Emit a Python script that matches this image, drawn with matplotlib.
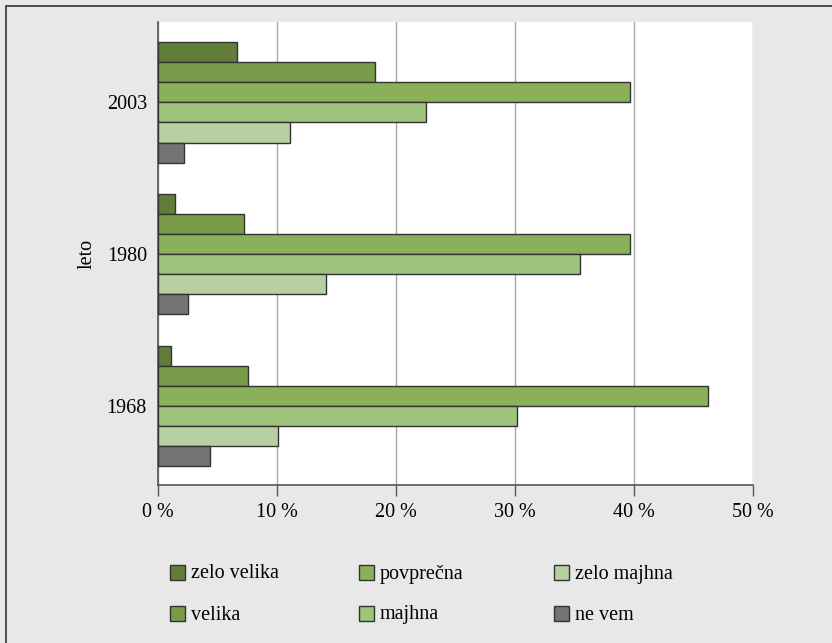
import matplotlib.pyplot as plt
from matplotlib.patches import Rectangle

# data (percent)
years = ['1968', '1980', '2003']
categories = ['zelo velika', 'velika', 'povprečna', 'majhna', 'zelo majhna', 'ne vem']
zelo_velika = [1.1, 1.4, 6.6]
velika = [7.6, 7.2, 18.2]
povprecna = [46.2, 39.7, 39.7]
majhna = [30.2, 35.5, 22.5]
zelo_majhna = [10.1, 14.1, 11.1]
ne_vem = [4.4, 2.5, 2.2]
x_ticks = [0, 10, 20, 30, 40, 50]

series = [zelo_velika, velika, povprecna, majhna, zelo_majhna, ne_vem]
colors = ['#627d3a', '#7a9b4a', '#8ab05a', '#9ec37c', '#b6d0a2', '#747476']

plt.rcParams['font.family'] = ['Liberation Serif', 'DejaVu Serif']
bg = '#e8e8e8'
W, H = 832, 643

fig = plt.figure(figsize=(W / 100, H / 100), dpi=100, facecolor=bg)
ax = fig.add_axes([158 / W, 1 - 485 / H, 595 / W, 463 / H])
ax.set_facecolor('white')

bar_h = 0.132
for i, (vals, col, name) in enumerate(zip(series, colors, categories)):
    offset = (2.5 - i) * bar_h
    ypos = [k + offset for k in range(len(years))]
    ax.barh(ypos, vals, height=bar_h, color=col, edgecolor='#333333',
            linewidth=1.0, label=name, zorder=3)

ax.set_xlim(0, 50)
ax.set_ylim(-0.52, 2.53)
ax.set_xticks(x_ticks)
ax.set_xticklabels([f'{t} %' for t in x_ticks], fontsize=14.5)
ax.set_yticks(range(len(years)))
ax.set_yticklabels(years, fontsize=14.5)
ax.tick_params(axis='y', length=0, pad=8)
ax.tick_params(axis='x', direction='out', length=8, width=1, color='#555555', pad=5)
ax.set_ylabel('leto', fontsize=14.5, labelpad=7)

ax.grid(axis='x', color='#a8a8a8', linewidth=1, zorder=0)
ax.set_axisbelow(True)
for s in ['top', 'right']:
    ax.spines[s].set_visible(False)
for s in ['left', 'bottom']:
    ax.spines[s].set_color('#555555')
    ax.spines[s].set_linewidth(1.2)

# legend: 3 columns x 2 rows, filled column by column
col_x = [170, 359, 554]
row_y = [572, 613]
sq = 15
for k, (name, col) in enumerate(zip(categories, colors)):
    x0 = col_x[k // 2]
    yc = row_y[k % 2]
    fig.add_artist(Rectangle((x0 / W, 1 - (yc + sq / 2) / H), sq / W, sq / H,
                             transform=fig.transFigure, facecolor=col,
                             edgecolor='#333333', linewidth=1.0))
    fig.text((x0 + sq + 6) / W, 1 - (yc + sq / 2 - 1) / H, name,
             fontsize=14.5, va='baseline', ha='left')

# outer frame
fig.add_artist(Rectangle((6 / W, -0.05), 1.0, 1 - 6 / H + 0.05,
                         transform=fig.transFigure, fill=False,
                         edgecolor='#333333', linewidth=1.2))

fig.savefig('out.png', dpi=100, facecolor=bg)
